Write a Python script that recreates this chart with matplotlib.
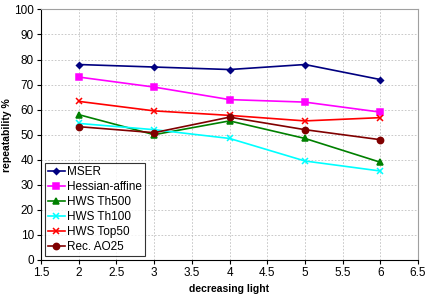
import matplotlib
matplotlib.use("Agg")
import matplotlib.pyplot as plt

plt.rcParams['font.family'] = ['Liberation Sans', 'DejaVu Sans']

x = [2, 3, 4, 5, 6]
mser = [78, 77, 76, 78, 72]
hessian = [73, 69, 64, 63, 59]
th500 = [58, 50, 55.5, 48.5, 39]
th100 = [54.5, 52, 48.5, 39.5, 35.5]
top50 = [63.3, 59.5, 57.7, 55.5, 56.8]
ao25 = [53.2, 50.8, 57, 52, 48]

series = [
    ("MSER", mser, "#000080", "D", 3),
    ("Hessian-affine", hessian, "#FF00FF", "s", 4.5),
    ("HWS Th500", th500, "#008000", "^", 4.5),
    ("HWS Th100", th100, "#00FFFF", "x", 4.5),
    ("HWS Top50", top50, "#FF0000", "x", 4.5),
    ("Rec. AO25", ao25, "#800000", "o", 4.5),
]

fig = plt.figure(figsize=(4.3, 3.03), dpi=100)
ax = fig.add_axes([0.0953, 0.142, 0.877, 0.827])

for name, vals, col, mk, ms in series:
    ax.plot(x, vals, color=col, marker=mk, markersize=ms, linewidth=1.2,
            label=name, markeredgewidth=1.1)

ax.set_xlim(1.5, 6.5)
ax.set_ylim(0, 100)
ax.set_xticks([1.5, 2, 2.5, 3, 3.5, 4, 4.5, 5, 5.5, 6, 6.5])
ax.set_xticklabels(["1.5", "2", "2.5", "3", "3.5", "4", "4.5", "5", "5.5", "6", "6.5"])
ax.set_yticks(range(0, 101, 10))
ax.grid(True, color="#c0c0c0", linestyle=(0, (2, 2)), linewidth=0.6)
ax.set_axisbelow(True)
ax.tick_params(labelsize=8.5, length=3, direction="out", pad=2)
for s in ["top", "right"]:
    ax.spines[s].set_color("#a0a0a0")
ax.set_xlabel("decreasing light", fontsize=7.5, fontweight="bold")
ax.set_ylabel("repeatability %", fontsize=7.5, fontweight="bold")
ax.yaxis.set_label_coords(-0.078, 0.5)

leg = ax.legend(loc="lower left", fontsize=8.5, frameon=True, fancybox=False,
                edgecolor="black", handlelength=1.4, handletextpad=0.2,
                labelspacing=0.25, borderpad=0.3, borderaxespad=0.3)
leg.get_frame().set_linewidth(0.8)

fig.savefig("out.png", dpi=100)
